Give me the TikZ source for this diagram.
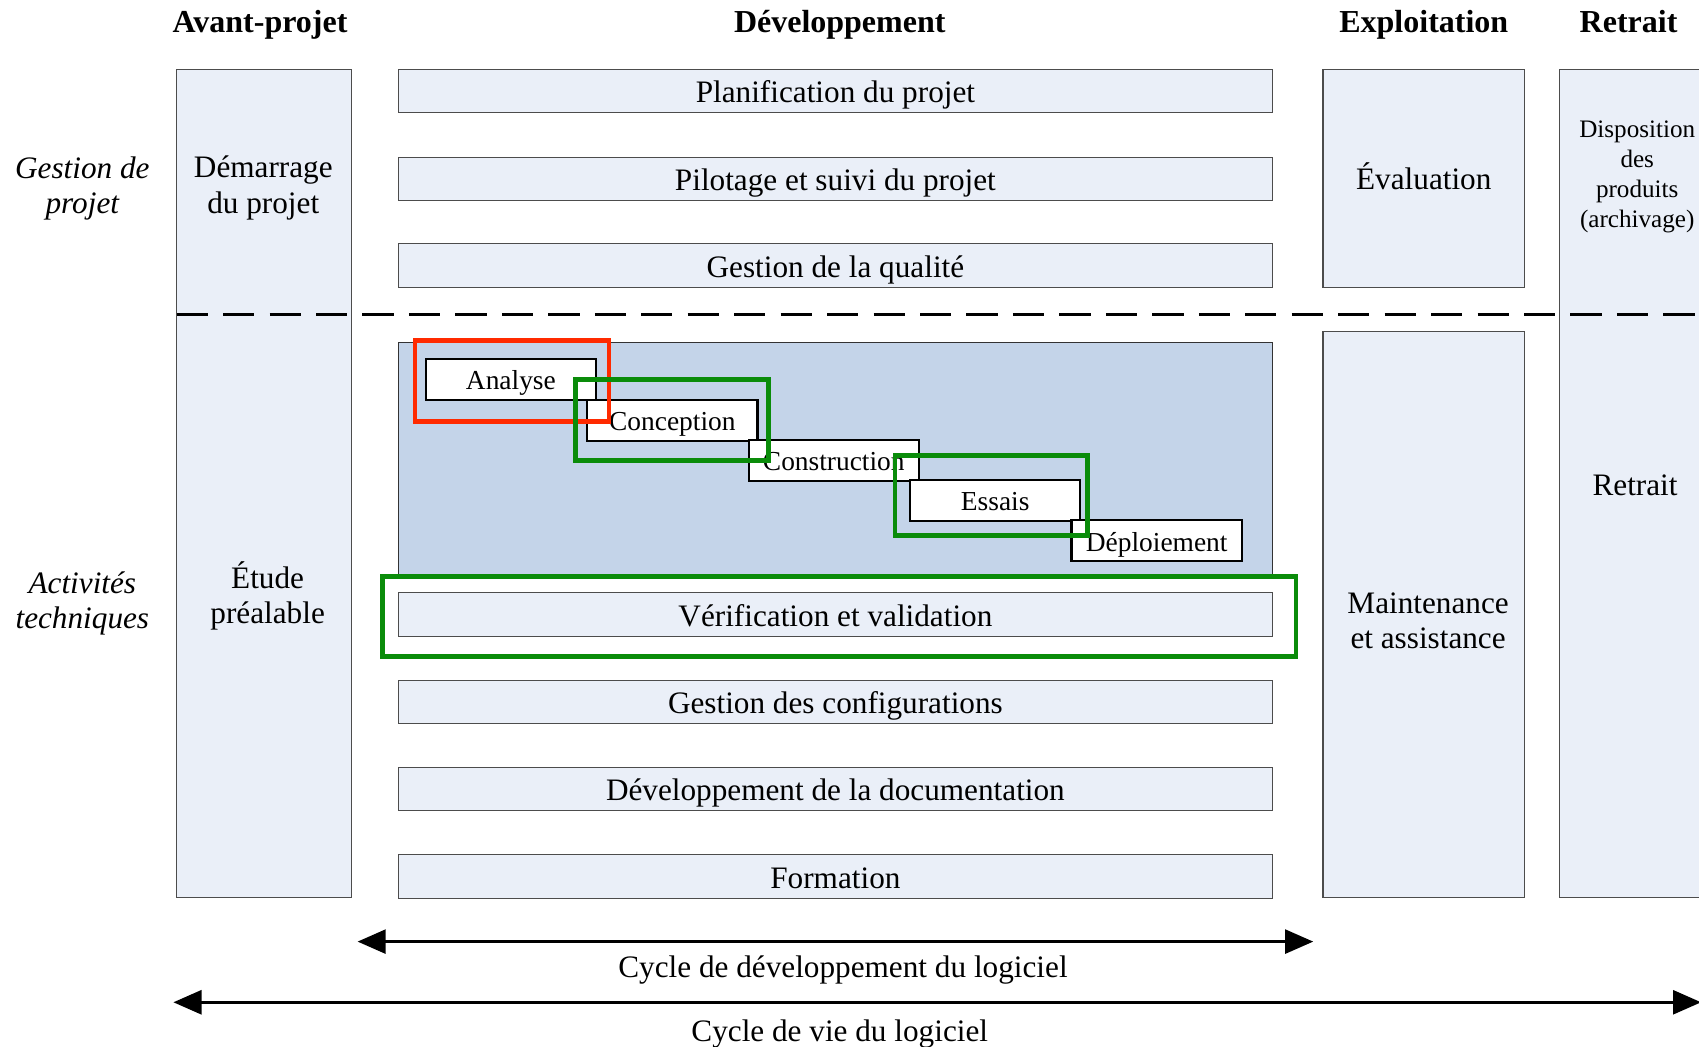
\documentclass[tikz,border=0pt]{standalone}
\usepackage{fontspec}
\setmainfont{Liberation Serif}
\usetikzlibrary{arrows.meta}

\definecolor{paleblue}{HTML}{EAEFF8}
\definecolor{waterblue}{HTML}{C4D4E9}
\definecolor{redframe}{HTML}{FF2A00}
\definecolor{greenframe}{HTML}{0A8C0A}

\tikzset{
  pale/.style={draw=black!70, fill=paleblue, line width=0.7pt, inner sep=0pt, align=center},
  bar/.style={pale, minimum width=201.5mm, minimum height=10mm, text height=17.5pt, text depth=2pt, font=\fontsize{20.5}{23.5}\selectfont},
  txt/.style={align=center, inner sep=0pt, font=\fontsize{20.5}{23.5}\selectfont},
  head/.style={inner sep=0pt, text height=16.2pt, text depth=2pt, font=\fontsize{21}{24}\selectfont\bfseries},
  phase/.style={draw=black, fill=white, line width=1.5pt, minimum width=39.25mm, minimum height=9.5mm, inner sep=0pt, text height=15.6pt, text depth=2pt, font=\fontsize{18}{20}\selectfont},
  frame/.style={draw=#1, line width=3.2pt, inner sep=0pt},
  cycle/.style={line width=2.1pt, {Triangle[length=6.5mm,width=5.5mm]}-{Triangle[length=6.5mm,width=5.5mm]}}
}

\begin{document}
\begin{tikzpicture}[x=0.25mm, y=-0.25mm]
\useasboundingbox (0,0) rectangle (1568,966);

\node[head](hAvant) at (240,20) {Avant-projet};
\node[head](hDev) at (775,20) {Développement};
\node[head](hExpl) at (1314,20) {Exploitation};
\node[head](hRetrait) at (1503,20) {Retrait};

\node[txt, font=\fontsize{20.5}{23.5}\selectfont\itshape](gestion) at (76,174) {Gestion de\\projet};
\node[txt, font=\fontsize{20.5}{23.5}\selectfont\itshape](activites) at (76,557) {Activités\\techniques};

\node[pale, minimum width=40.25mm, minimum height=191mm](avant) at (243.5,446) {};
\node[txt](demarrage) at (243,173.5) {Démarrage\\du projet};
\node[txt](etude) at (247,550) {Étude\\préalable};

\node[bar](planif) at (771,84) {Planification du projet};
\node[bar](pilotage) at (771,165) {Pilotage et suivi du projet};
\node[bar](qualite) at (771,245) {Gestion de la qualité};
\node[pale, fill=waterblue, draw=black!80, minimum width=201.5mm, minimum height=53.5mm](waterfall) at (771,423) {};
\node[bar](verif) at (771,567) {Vérification et validation};
\node[bar](config) at (771,648) {Gestion des configurations};
\node[bar](doc) at (771,728) {Développement de la documentation};
\node[bar](formation) at (771,809) {Formation};

\node[phase](analyse) at (471.5,350) {Analyse};
\node[phase](conception) at (620.5,388) {Conception};
\node[phase](construction) at (769.5,425) {Construction};
\node[phase](essais) at (918.5,462) {Essais};
\node[phase](deploiement) at (1067.5,499) {Déploiement};

\node[frame=redframe, minimum width=44.75mm, minimum height=18.75mm](frameA) at (472.5,351.5) {};
\node[frame=greenframe, minimum width=44.5mm, minimum height=18.75mm](frameC) at (620,387.5) {};
\node[frame=greenframe, minimum width=44.5mm, minimum height=18.5mm](frameE) at (915,457) {};
\node[frame=greenframe, minimum width=210.75mm, minimum height=18.5mm](frameV) at (774.5,569) {};

\node[pale, minimum width=46.5mm, minimum height=50.25mm, font=\fontsize{20.5}{23.5}\selectfont](evaluation) at (1314,164.5) {};
\node[txt](evaltext) at (1314,163) {Évaluation};
\node[pale, minimum width=46.5mm, minimum height=130.5mm](maintenance) at (1314,567) {};
\node[txt](mainttext) at (1318,573) {Maintenance\\et assistance};
\node[pale, minimum width=35.25mm, minimum height=191mm](retrait) at (1509.5,446) {};
\node[txt](retraittext) at (1509,448) {Retrait};
\node[txt, font=\fontsize{16.5}{19.7}\selectfont](disposition) at (1511,163.5) {Disposition\\des\\produits\\(archivage)};

\coordinate (sepL) at (163,290);
\coordinate (sepR) at (1572,290);
\draw[line width=2.2pt, dash pattern=on 20.5pt off 10pt](sepL)--(sepR);

\coordinate (devL) at (330,869);
\coordinate (devR) at (1212,869);
\coordinate (vieL) at (160,925);
\coordinate (vieR) at (1570,925);
\draw[cycle](devL)--(devR);
\draw[cycle](vieL)--(vieR);
\node[txt](devlabel) at (778,895) {Cycle de développement du logiciel};
\node[txt](vielabel) at (775,954) {Cycle de vie du logiciel};
\end{tikzpicture}
\end{document}
